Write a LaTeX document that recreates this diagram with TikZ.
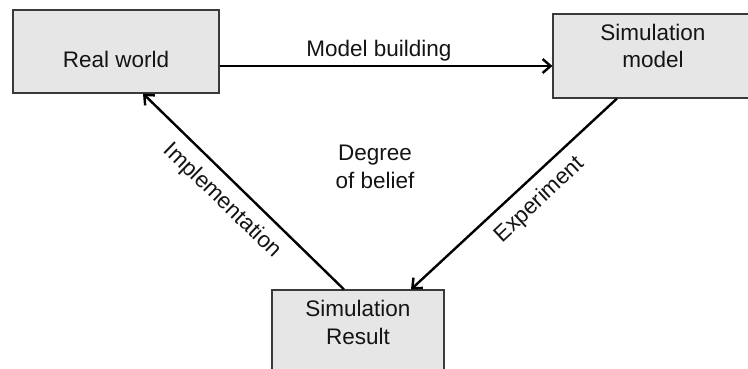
\documentclass[tikz,border=0pt]{standalone}
\usepackage{fontspec}
\setmainfont{Liberation Sans}
\usetikzlibrary{arrows.meta}
\definecolor{boxfill}{HTML}{E6E6E6}
\definecolor{boxline}{HTML}{3A3A3A}
\definecolor{ink}{HTML}{141414}
\begin{document}
\begin{tikzpicture}[x=1pt,y=-1pt,
  every node/.style={font=\fontsize{22.5}{28}\selectfont, text=ink},
  box/.style={draw=boxline, line width=1.1pt, fill=boxfill, align=center,
              inner sep=0pt},
  flow/.style={draw=black, line width=2.4pt,
               -{Straight Barb[length=8pt,width=14pt]}},
  lbl/.style={inner sep=0pt}]
  \useasboundingbox (0,0) rectangle (748,369);
  % boxes (text height/depth place the lines inside each box)
  \node[box, minimum width=206pt, minimum height=83pt,
        text height=32pt, text depth=0pt] (rw) at (116,51.5) {Real world};
  \node[box, minimum width=200pt, minimum height=84pt,
        text height=44pt, text depth=20pt] (sm) at (653,56) {Simulation\\model};
  \node[box, minimum width=172pt, minimum height=90pt,
        text height=44pt, text depth=26pt] (sr) at (358,335) {Simulation\\Result};
  % connectors
  \draw[flow] (rw.east |- 0,66) -- (sm.west |- 0,66);
  \draw[flow] (sm.south -| 617,0) -- (sr.north -| 411,0);
  \draw[flow] (sr.north -| 344,0) -- (rw.south -| 143,0);
  % connector labels
  \node[lbl, anchor=base] (mb) at (379,57) {Model building};
  \node[lbl, rotate=43] (ex) at (540,200) {Experiment};
  \node[lbl, rotate=-44] (im) at (222,201) {Implementation};
  % centre caption (base = baseline of the last line)
  \node[lbl, align=center, anchor=base] (db) at (375,188) {Degree\\of belief};
\end{tikzpicture}
\end{document}
